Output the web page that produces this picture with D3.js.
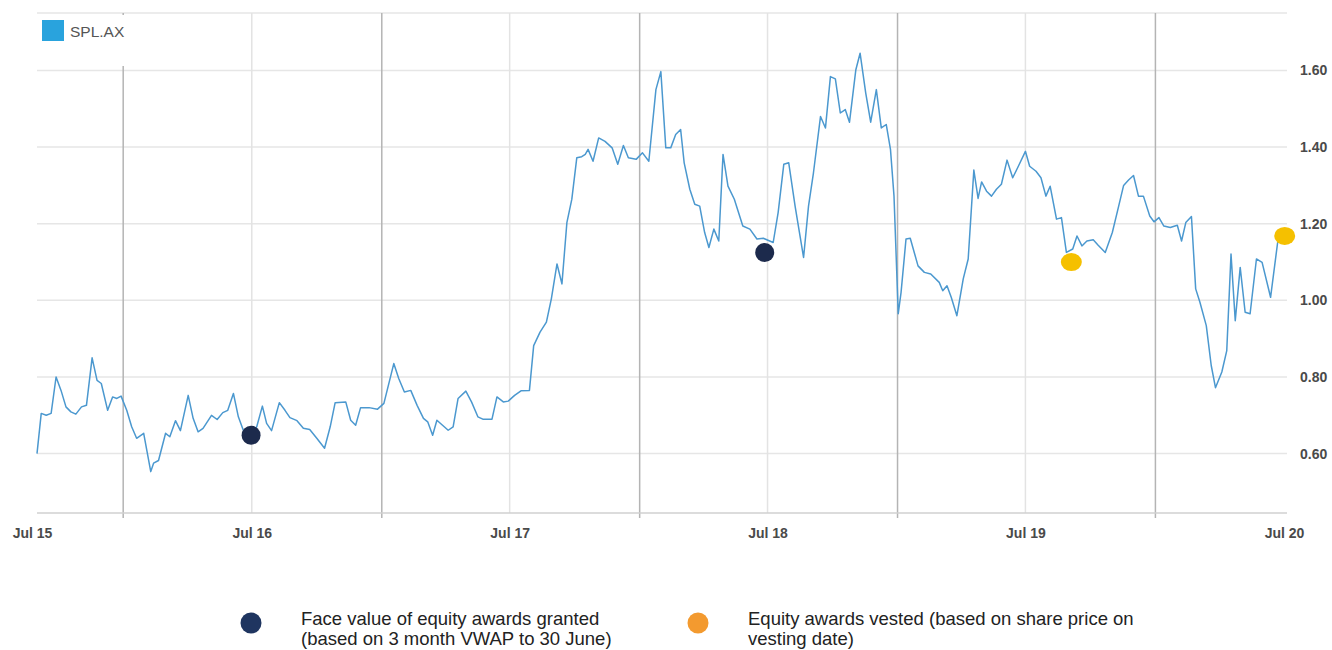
<!DOCTYPE html>
<html>
<head>
<meta charset="utf-8">
<script src="https://cdn.jsdelivr.net/npm/d3@7"></script>
<style>
  body { margin: 0; background: #fff; }
  svg { display: block; font-family: "Liberation Sans", Arial, sans-serif; }
</style>
</head>
<body>
<div id="chart"></div>
<script>
// share price
var priceDates = [
  "2015-09-01","2015-09-07","2015-09-14","2015-09-21","2015-09-28","2015-10-05","2015-10-12","2015-10-19","2015-10-26","2015-11-03",
  "2015-11-10","2015-11-18","2015-11-25","2015-12-01","2015-12-10","2015-12-17","2015-12-23","2015-12-29","2016-01-06","2016-01-13",
  "2016-01-20","2016-01-30","2016-02-09","2016-02-13","2016-02-20","2016-03-01","2016-03-07","2016-03-15","2016-03-22","2016-04-02",
  "2016-04-09","2016-04-16","2016-04-23","2016-05-05","2016-05-13","2016-05-21","2016-05-28","2016-06-05","2016-06-12","2016-06-19",
  "2016-06-28","2016-07-08","2016-07-16","2016-07-22","2016-07-29","2016-08-09","2016-08-17","2016-08-24","2016-09-03","2016-09-12",
  "2016-09-21","2016-10-01","2016-10-12","2016-10-20","2016-10-27","2016-11-11","2016-11-18","2016-11-25","2016-12-02","2016-12-14",
  "2016-12-26","2017-01-04","2017-01-18","2017-01-25","2017-02-02","2017-02-11","2017-02-20","2017-03-01","2017-03-07","2017-03-14",
  "2017-03-20","2017-03-28","2017-04-05","2017-04-12","2017-04-19","2017-04-30","2017-05-08","2017-05-17","2017-05-24","2017-06-06",
  "2017-06-13","2017-06-22","2017-06-29","2017-07-08","2017-07-17","2017-07-29","2017-08-04","2017-08-13","2017-08-22","2017-08-29",
  "2017-09-06","2017-09-13","2017-09-20","2017-09-27","2017-10-04","2017-10-11","2017-10-16","2017-10-20","2017-10-27","2017-11-04",
  "2017-11-13","2017-11-23","2017-12-01","2017-12-09","2017-12-16","2017-12-27","2018-01-05","2018-01-14","2018-01-24","2018-01-31",
  "2018-02-07","2018-02-14","2018-02-21","2018-02-28","2018-03-05","2018-03-13","2018-03-20","2018-03-27","2018-04-03","2018-04-09",
  "2018-04-16","2018-04-23","2018-04-29","2018-05-06","2018-05-15","2018-05-27","2018-06-06","2018-06-16","2018-06-25","2018-07-09",
  "2018-07-16","2018-07-24","2018-07-31","2018-08-09","2018-08-21","2018-08-28","2018-09-04","2018-09-14","2018-09-21","2018-09-28",
  "2018-10-05","2018-10-12","2018-10-19","2018-10-25","2018-11-03","2018-11-09","2018-11-17","2018-11-24","2018-12-02","2018-12-09",
  "2018-12-16","2018-12-22","2018-12-27","2019-01-02","2019-01-06","2019-01-13","2019-01-19","2019-01-30","2019-02-08","2019-02-17",
  "2019-03-01","2019-03-06","2019-03-12","2019-03-18","2019-03-26","2019-04-04","2019-04-11","2019-04-19","2019-04-25","2019-04-30",
  "2019-05-07","2019-05-14","2019-05-21","2019-05-28","2019-06-05","2019-06-13","2019-06-21","2019-07-01","2019-07-07","2019-07-16",
  "2019-07-23","2019-07-30","2019-08-05","2019-08-14","2019-08-21","2019-08-28","2019-09-06","2019-09-12","2019-09-19","2019-09-26",
  "2019-10-05","2019-10-12","2019-10-22","2019-11-01","2019-11-10","2019-11-17","2019-11-24","2019-12-01","2019-12-08","2019-12-15",
  "2019-12-24","2019-12-30","2020-01-06","2020-01-13","2020-01-22","2020-02-01","2020-02-07","2020-02-13","2020-02-21","2020-02-27",
  "2020-03-04","2020-03-13","2020-03-20","2020-03-26","2020-04-04","2020-04-11","2020-04-17","2020-04-23","2020-04-30","2020-05-07",
  "2020-05-14","2020-05-23","2020-05-31","2020-06-12","2020-06-22","2020-07-01"
];
var priceValues = [
  0.600,0.705,0.700,0.705,0.800,0.765,0.722,0.709,0.703,0.722,
  0.726,0.850,0.791,0.783,0.713,0.748,0.744,0.750,0.713,0.670,
  0.640,0.653,0.553,0.575,0.582,0.653,0.644,0.686,0.660,0.752,
  0.692,0.657,0.666,0.700,0.689,0.707,0.713,0.757,0.696,0.661,
  0.648,0.670,0.724,0.679,0.660,0.733,0.713,0.694,0.686,0.666,
  0.663,0.640,0.614,0.670,0.733,0.735,0.687,0.674,0.720,0.720,
  0.716,0.731,0.835,0.796,0.761,0.765,0.726,0.692,0.683,0.648,
  0.687,0.674,0.661,0.670,0.744,0.763,0.735,0.696,0.690,0.690,
  0.748,0.735,0.737,0.752,0.764,0.765,0.882,0.917,0.943,1.004,
  1.095,1.043,1.203,1.264,1.372,1.375,1.381,1.394,1.363,1.424,
  1.415,1.398,1.355,1.404,1.372,1.368,1.385,1.363,1.550,1.597,
  1.398,1.398,1.433,1.446,1.359,1.290,1.251,1.246,1.177,1.138,
  1.186,1.155,1.381,1.298,1.264,1.194,1.186,1.160,1.162,1.151,
  1.229,1.355,1.359,1.246,1.112,1.246,1.333,1.480,1.450,1.584,
  1.578,1.489,1.498,1.465,1.602,1.645,1.541,1.465,1.550,1.450,
  1.459,1.394,1.272,0.965,1.021,1.160,1.162,1.090,1.073,1.069,
  1.047,1.025,1.038,1.008,0.960,1.056,1.108,1.340,1.266,1.309,
  1.285,1.272,1.290,1.303,1.366,1.320,1.350,1.389,1.350,1.337,
  1.320,1.272,1.298,1.212,1.216,1.125,1.134,1.168,1.142,1.155,
  1.158,1.144,1.125,1.177,1.246,1.300,1.314,1.326,1.272,1.272,
  1.220,1.205,1.216,1.194,1.190,1.196,1.155,1.203,1.219,1.030,
  0.995,0.934,0.830,0.772,0.813,0.869,1.121,0.947,1.086,0.969,
  0.965,1.108,1.099,1.008,1.151,1.168
];

// markers
var grantDates = ["2016-06-30", "2018-06-27"];
var grantValues = [0.648, 1.125];
var vestDates = ["2019-09-04", "2020-07-02"];
var vestValues = [1.10, 1.168];

// axes
var xDomain = ["2015-09-01", "2020-07-01"];
var xTickDates = ["2015-09-01", "2016-07-01", "2017-07-01", "2018-07-01", "2019-07-01", "2020-07-01"];
var xTickLabels = ["Jul 15", "Jul 16", "Jul 17", "Jul 18", "Jul 19", "Jul 20"];
var janDates = ["2016-01-01", "2017-01-01", "2018-01-01", "2019-01-01", "2020-01-01"];
var yTicks = [0.60, 0.80, 1.00, 1.20, 1.40, 1.60];
var yDomain = [0.445, 1.75];

var seriesName = "SPL.AX";
var legendGrant = ["Face value of equity awards granted", "(based on 3 month VWAP to 30 June)"];
var legendVest = ["Equity awards vested (based on share price on", "vesting date)"];

var svgWidth = 1332;
var svgHeight = 650;

var parse = d3.utcParse("%Y-%m-%d");

var svg = d3.select("#chart")
  .append("svg")
  .attr("width", svgWidth)
  .attr("height", svgHeight);

var xScale = d3.scaleUtc()
  .domain(xDomain.map(parse))
  .range([37, 1284]);

var yScale = d3.scaleLinear()
  .domain(yDomain)
  .range([513, 13]);

var plotRight = 1287;

// horizontal grid
svg.append("g")
  .selectAll("line")
  .data(yTicks.concat([yDomain[1]]))
  .enter()
  .append("line")
  .attr("x1", 37)
  .attr("x2", plotRight)
  .attr("y1", d => yScale(d))
  .attr("y2", d => yScale(d))
  .attr("stroke", "#e6e6e6")
  .attr("stroke-width", 1.5);

// light july lines
svg.append("g")
  .selectAll("line")
  .data(xTickDates.slice(1, 5))
  .enter()
  .append("line")
  .attr("x1", d => xScale(parse(d)))
  .attr("x2", d => xScale(parse(d)))
  .attr("y1", yScale(yDomain[1]))
  .attr("y2", yScale(yDomain[0]))
  .attr("stroke", "#e3e3e3")
  .attr("stroke-width", 1.5);

// darker january lines
svg.append("g")
  .selectAll("line")
  .data(janDates)
  .enter()
  .append("line")
  .attr("x1", d => xScale(parse(d)))
  .attr("x2", d => xScale(parse(d)))
  .attr("y1", yScale(yDomain[1]))
  .attr("y2", yScale(yDomain[0]) + 5)
  .attr("stroke", "#b4b4b4")
  .attr("stroke-width", 1.5);

// bottom axis
var bottomAxis = d3.axisBottom(xScale)
  .tickValues(xTickDates.map(parse))
  .tickFormat((d, i) => xTickLabels[i])
  .tickSize(0)
  .tickPadding(15);

var xAxisG = svg.append("g")
  .attr("transform", `translate(0, ${yScale(yDomain[0])})`)
  .call(bottomAxis);
xAxisG.select(".domain")
  .attr("d", `M37,0H${plotRight}`)
  .attr("stroke", "#d0d0d0")
  .attr("stroke-width", 1.5);
xAxisG.selectAll("text")
  .attr("font-size", 14)
  .attr("font-weight", "bold")
  .attr("fill", "#4a4a4a")
  .attr("font-family", "Liberation Sans, Arial, sans-serif");
xAxisG.select(".tick text").attr("dx", -5);

// right axis
var rightAxis = d3.axisRight(yScale)
  .tickValues(yTicks)
  .tickFormat(d3.format(".2f"))
  .tickSize(0)
  .tickPadding(13);

var yAxisG = svg.append("g")
  .attr("transform", `translate(${plotRight}, 0)`)
  .call(rightAxis);
yAxisG.select(".domain").remove();
yAxisG.selectAll("text")
  .attr("font-size", 14)
  .attr("font-weight", "bold")
  .attr("fill", "#4a4a4a")
  .attr("font-family", "Liberation Sans, Arial, sans-serif");

// price line
var priceData = priceDates.map((d, i) => ({ date: parse(d), value: priceValues[i] }));

var line = d3.line()
  .x(d => xScale(d.date))
  .y(d => yScale(d.value));

svg.append("path")
  .datum(priceData)
  .attr("fill", "none")
  .attr("stroke", "#4b98cf")
  .attr("stroke-width", 1.5)
  .attr("stroke-linejoin", "round")
  .attr("d", line);

// grant and vest dots
svg.append("g")
  .selectAll("circle")
  .data(grantDates)
  .enter()
  .append("circle")
  .attr("cx", d => xScale(parse(d)))
  .attr("cy", (d, i) => yScale(grantValues[i]))
  .attr("r", 9.5)
  .attr("fill", "#1c2a4c");

svg.append("g")
  .selectAll("ellipse")
  .data(vestDates)
  .enter()
  .append("ellipse")
  .attr("cx", d => xScale(parse(d)))
  .attr("cy", (d, i) => yScale(vestValues[i]))
  .attr("rx", 10.5)
  .attr("ry", 9)
  .attr("fill", "#f5c000");

// series legend, top left
svg.append("rect")
  .attr("x", 38)
  .attr("y", 15)
  .attr("width", 160)
  .attr("height", 51)
  .attr("fill", "#fff");
svg.append("rect")
  .attr("x", 42)
  .attr("y", 20)
  .attr("width", 22)
  .attr("height", 21)
  .attr("fill", "#29a3dd");
svg.append("text")
  .attr("x", 70)
  .attr("y", 37)
  .attr("font-size", 15.5)
  .attr("fill", "#555")
  .text(seriesName);

// bottom legend
function legendItem(cx, color, lines) {
  svg.append("circle")
    .attr("cx", cx)
    .attr("cy", 623)
    .attr("r", 10.5)
    .attr("fill", color);
  svg.append("text")
    .attr("x", cx + 50)
    .attr("y", 625)
    .attr("font-size", 18.5)
    .attr("fill", "#222")
    .selectAll("tspan")
    .data(lines)
    .enter()
    .append("tspan")
    .attr("x", cx + 50)
    .attr("dy", (d, i) => i === 0 ? 0 : 20)
    .text(d => d);
}

legendItem(251, "#1f3560", legendGrant);
legendItem(698, "#f39a2f", legendVest);
</script>
</body>
</html>
